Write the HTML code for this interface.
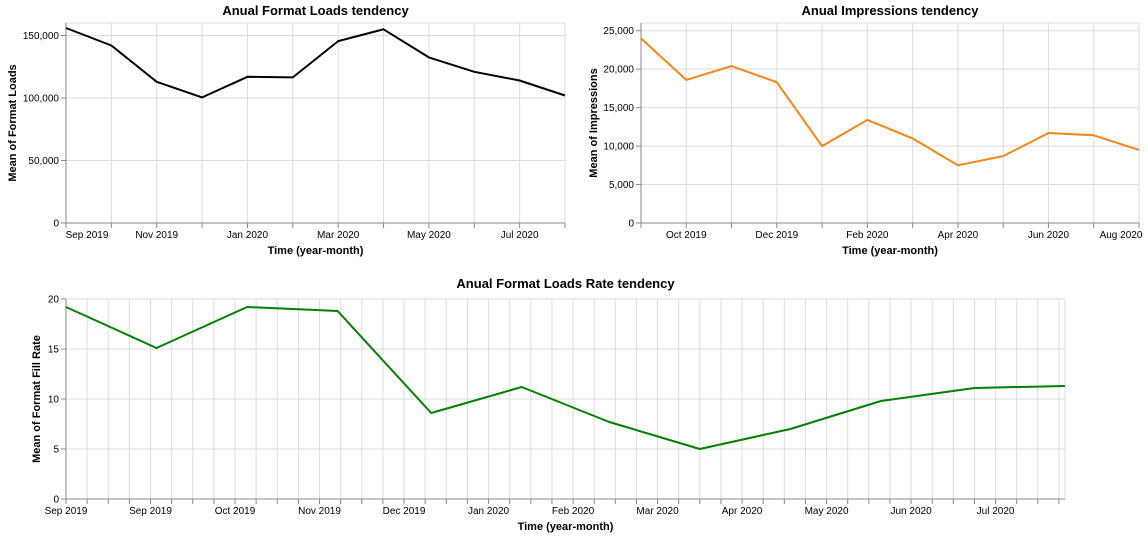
<!DOCTYPE html>
<html><head><meta charset="utf-8">
<style>
body{margin:0;background:#fff;}
svg{display:block;font-family:"Liberation Sans",Arial,sans-serif;}
.tick{font-size:10px;fill:#000;}
.ttl{font-size:13px;font-weight:bold;fill:#000;}
.atl{font-size:11px;font-weight:bold;fill:#000;}
</style></head>
<body>
<svg id="c" width="1148" height="537"></svg>
<script>
// Chart 1 data
const months1 = ["Sep 2019","Oct 2019","Nov 2019","Dec 2019","Jan 2020","Feb 2020","Mar 2020","Apr 2020","May 2020","Jun 2020","Jul 2020","Aug 2020"];
const loads = [156000,142000,113000,100500,117000,116500,145500,155000,132500,121000,114000,102000];
const loadTicks = [0,50000,100000,150000];
// Chart 2 data
const impressions = [24000,18600,20400,18300,10000,13400,11000,7500,8700,11700,11400,9500];
const impTicks = [0,5000,10000,15000,20000,25000];
// Chart 3 data (day offsets from 2019-09-01)
const rateDays = [0,30,60,90,121,151,180,210,240,270,301,331];
const fillRate = [19.2,15.1,19.2,18.8,8.6,11.2,7.7,5.0,7.0,9.8,11.1,11.3];
const rateTicks = [0,5,10,15,20];
const rateTickDays = [0,28,56,84,112,140,168,196,224,252,280,308];
const rateTickLabels = ["Sep 2019","Sep 2019","Oct 2019","Nov 2019","Dec 2019","Jan 2020","Feb 2020","Mar 2020","Apr 2020","May 2020","Jun 2020","Jul 2020"];

const NS="http://www.w3.org/2000/svg";
const svg=document.getElementById('c');
function mk(t,a,p){const e=document.createElementNS(NS,t);for(const k in a)e.setAttribute(k,a[k]);(p||svg).appendChild(e);return e;}
function fmt(v){return v.toLocaleString('en-US');}

function chart(o){
  const g=mk('g',{});
  
  
  const {x0,x1,y0,y1}=o;
  const X=o.X, Y=v=>y0-(v/o.ymax)*(y0-y1);
  o.vgrid.forEach(gx=>{
    const l=mk('line',{x1:gx,x2:gx,y1:y1,y2:y0,stroke:'#ddd','stroke-width':1},g);
    
    
    const t=mk('line',{x1:gx,x2:gx,y1:y0,y2:y0+5,stroke:'#888','stroke-width':1},g);
    
    
  });
  mk('line',{x1:x1,x2:x1,y1:y1,y2:y0,stroke:'#ddd'},g);
  mk('line',{x1:x0,x2:x1,y1:y1,y2:y1,stroke:'#ddd'},g);
  o.yticks.forEach(v=>{
    const yy=Y(v);
    const l=mk('line',{x1:x0,x2:x1,y1:yy,y2:yy,stroke:'#ddd'},g);
    
    
    mk('line',{x1:x0-5,x2:x0,y1:yy,y2:yy,stroke:'#888'},g);
    const t=mk('text',{x:x0-7,y:yy+3.5,'text-anchor':'end',class:'tick'},g);
    t.textContent=fmt(v);
    
    
  });
  mk('line',{x1:x0,x2:x0,y1:y1,y2:y0,stroke:'#888'},g);
  mk('line',{x1:x0,x2:x1,y1:y0,y2:y0,stroke:'#888'},g);
  o.xlabels.forEach(([px,lab])=>{
    const t=mk('text',{x:px,y:y0+15,'text-anchor':'middle',class:'tick'},g);
    t.textContent=lab;
    
    
  });
  const pts=o.xs.map((xv,i)=>X(xv).toFixed(1)+','+Y(o.vals[i]).toFixed(1)).join(' ');
  const pl=mk('polyline',{points:pts,fill:'none',stroke:o.color,'stroke-width':2,'stroke-linejoin':'round'},g);
  
  
  const tt=mk('text',{x:(x0+x1)/2,y:y1-o.tgap,'text-anchor':'middle',class:'ttl'},g);
  tt.textContent=o.title;
  
  
  const xt=mk('text',{x:(x0+x1)/2,y:y0+31,'text-anchor':'middle',class:'atl'},g);
  xt.textContent='Time (year-month)';
  
  
  const yt=mk('text',{x:0,y:0,'text-anchor':'middle',class:'atl',transform:`translate(${o.ytx},${(y0+y1)/2}) rotate(-90)`},g);
  yt.textContent=o.ytitle;
  
  
}

(function(){
  const x0=66,x1=565,step=(x1-x0)/11;
  const X=i=>x0+i*step;
  const idx=months1.map((m,i)=>i);
  chart({name:'format-loads-chart',x0,x1,y0:223,y1:23,ymax:160000,X,xs:idx,vals:loads,yticks:loadTicks,
    vgrid:idx.map(X),xlabels:idx.filter(i=>i%2==0&&i<11).map(i=>[X(i)+(i==0?21:0),months1[i]]),
    color:'#000',title:'Anual Format Loads tendency',ytitle:'Mean of Format Loads',ytx:16,tgap:8});
})();
(function(){
  const x0=641,x1=1139,step=(x1-x0)/11;
  const X=i=>x0+i*step;
  const idx=months1.map((m,i)=>i);
  chart({name:'impressions-chart',x0,x1,y0:223,y1:23,ymax:26000,X,xs:idx,vals:impressions,yticks:impTicks,
    vgrid:idx.map(X),xlabels:idx.filter(i=>i%2==1).map(i=>[X(i)-(i==11?18:0),months1[i]]),
    color:'#f58518',title:'Anual Impressions tendency',ytitle:'Mean of Impressions',ytx:597,tgap:8});
})();
(function(){
  const x0=66,x1=1065,maxD=331,k=(x1-x0)/maxD;
  const X=d=>x0+d*k;
  const grid=[];for(let d=0;d<=maxD;d+=7)grid.push(X(d));
  chart({name:'fill-rate-chart',x0,x1,y0:499,y1:299,ymax:20,X,xs:rateDays,vals:fillRate,yticks:rateTicks,
    vgrid:grid,xlabels:rateTickDays.map((d,i)=>[X(d),rateTickLabels[i]]),
    color:'#008000',title:'Anual Format Loads Rate tendency',ytitle:'Mean of Format Fill Rate',ytx:40,tgap:11});
})();
</script>
</body></html>
